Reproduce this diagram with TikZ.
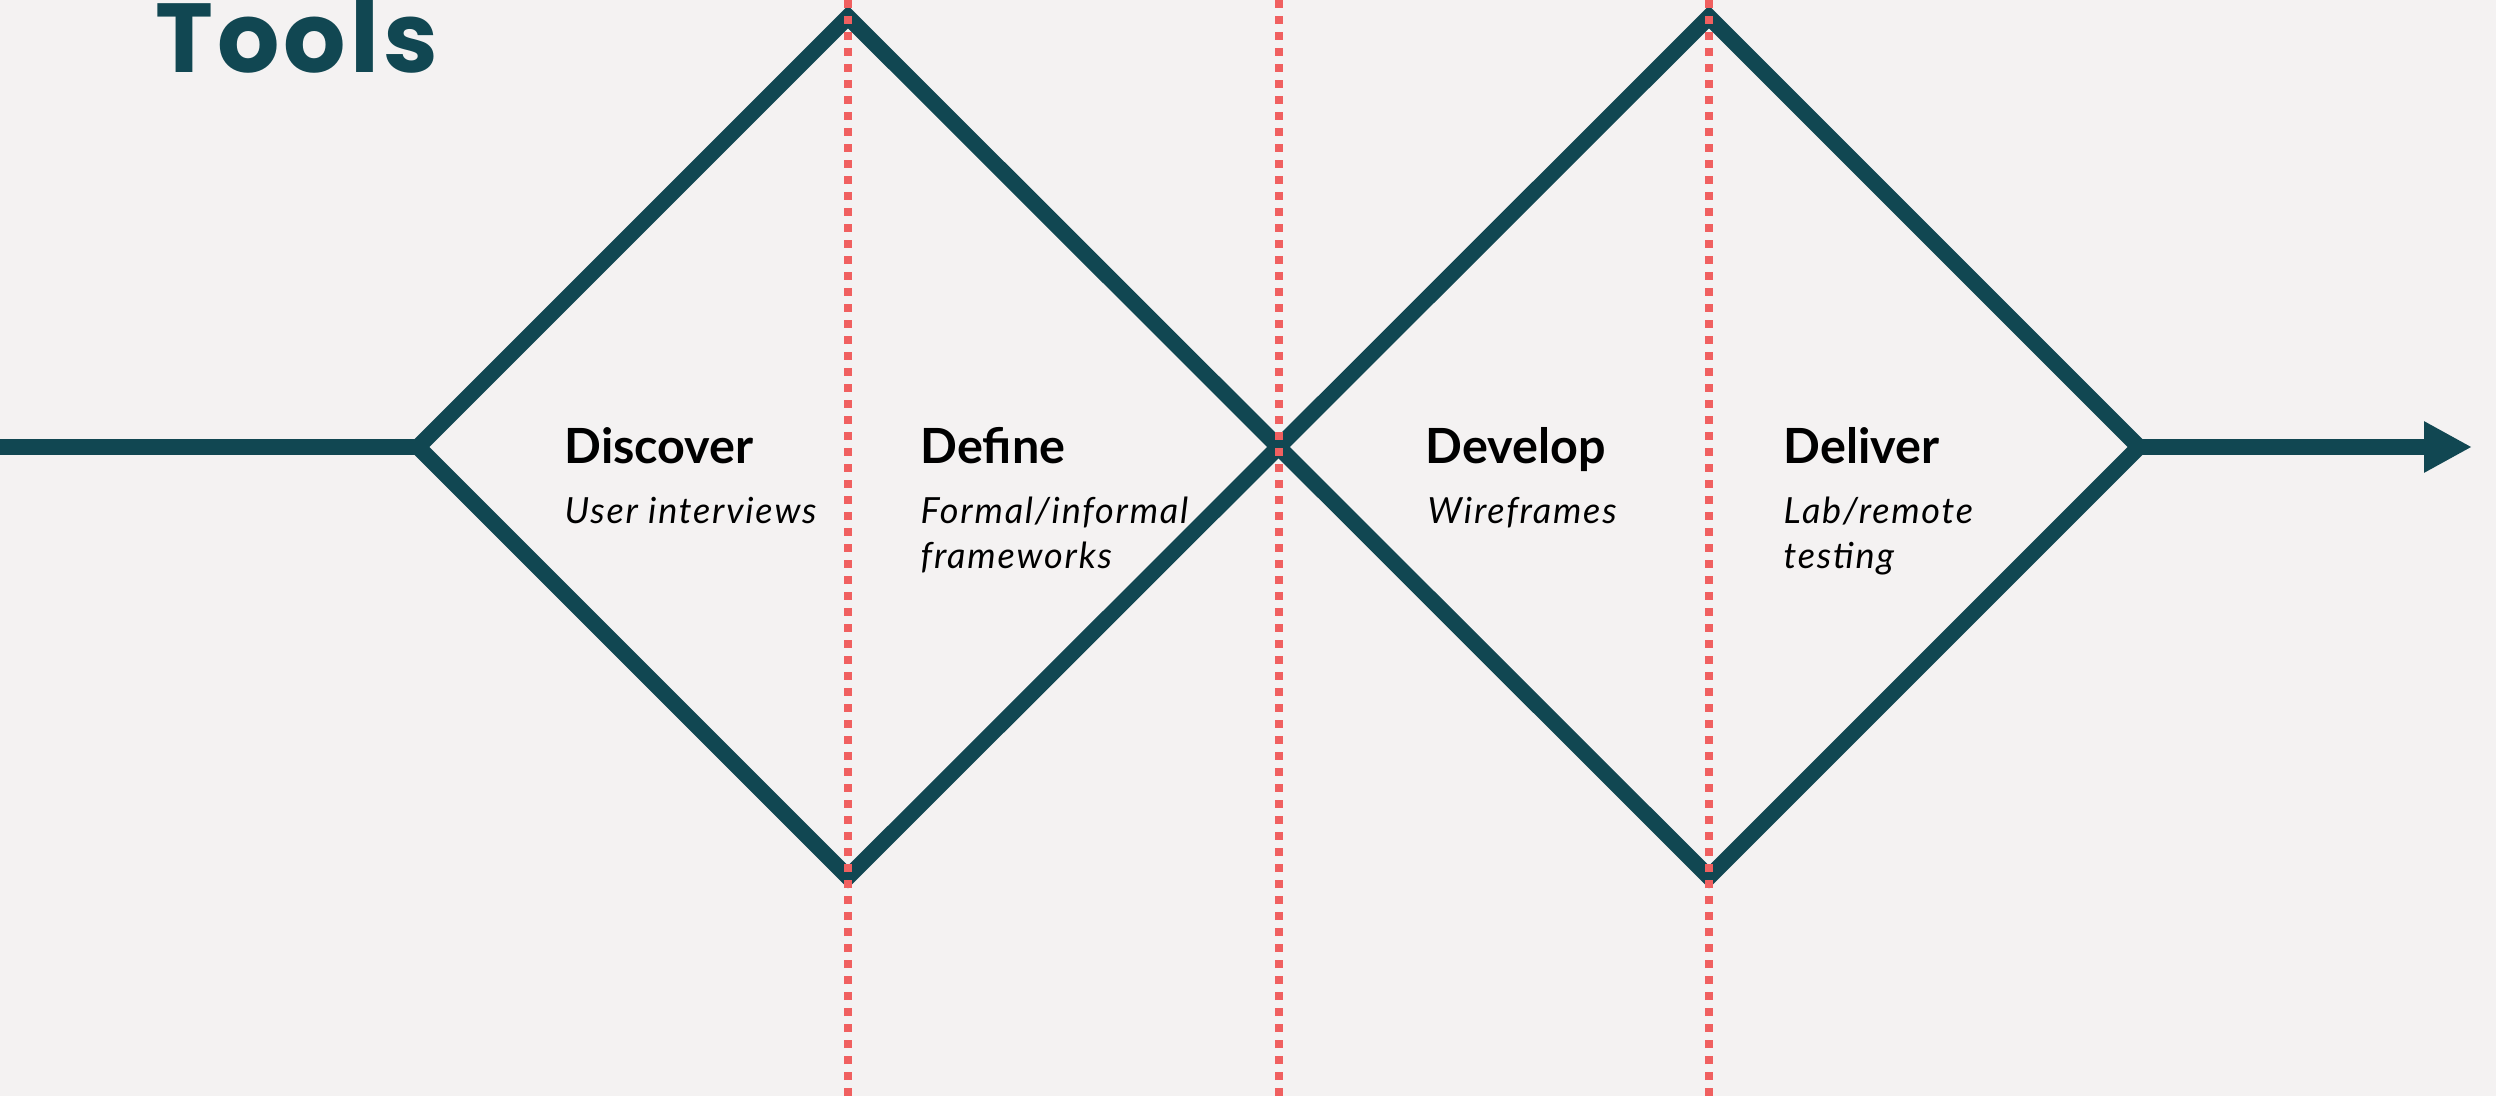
\documentclass[tikz,border=0pt]{standalone}
\usepackage{fontspec}
\setmainfont{Lato}
\newfontfamily\titlefont[LetterSpace=4]{Poppins}
\newfontfamily\toolfont[LetterSpace=5]{Lato}
\usetikzlibrary{arrows.meta}

\definecolor{teal}{HTML}{114752}
\definecolor{dots}{HTML}{F06060}
\definecolor{paper}{HTML}{F4F2F2}

\begin{document}
\begin{tikzpicture}
        \tikzstyle{every node}=[inner sep=0pt, text=black, anchor=base west, align=left]
        \tikzstyle{phase}=[font=\fontsize{13.8}{16}\selectfont\bfseries]
        \tikzstyle{tool}=[font=\fontsize{10.25}{12.8}\selectfont\toolfont\itshape]
        \tikzstyle{edge}=[teal, line width=0.16cm, miter limit=4]

        % page
        \fill[paper] (0,0) rectangle (24.96,10.96);
        \useasboundingbox (0,0) rectangle (24.96,10.96);

        \node[font=\fontsize{27.9}{30}\selectfont\titlefont\bfseries, text=teal] (title) at (1.55,10.23) {Tools};

        % corners of the two diamonds
        \coordinate (start) at (0,6.49);
        \coordinate (l1)    at (4.18,6.49);
        \coordinate (t1)    at (8.48,10.79);
        \coordinate (b1)    at (8.48,2.19);
        \coordinate (m)     at (12.785,6.49);
        \coordinate (t2)    at (17.09,10.79);
        \coordinate (b2)    at (17.09,2.19);
        \coordinate (r)     at (21.39,6.49);
        \coordinate (end)   at (24.72,6.49);

        \draw[edge] (start) -- (l1);
        \draw[edge] (l1) -- (t1) -- (m) -- (b1) -- cycle;
        \draw[edge] (m) -- (t2) -- (r) -- (b2) -- cycle;
        \draw[edge, -{Triangle[length=0.48cm, width=0.48cm]}] (r) -- (end);

        \tikzstyle{edge}=[dots, line width=0.08cm, dash pattern=on 0.08cm off 0.08cm]
        \draw[edge] (8.48,0) -- (t1) -- (8.48,10.96);
        \draw[edge] (12.785,0) -- (m) -- (12.785,10.96);
        \draw[edge] (17.09,0) -- (t2) -- (17.09,10.96);

        % two-line texts sit on the baseline of their last line
        \node[phase] (discover) at (5.64,6.33)  {Discover};
        \node[tool]  (interv)   at (5.64,5.73)  {User interviews};
        \node[phase] (define)   at (9.20,6.33)  {Define};
        \node[tool]  (frames)   at (9.20,5.28)  {Formal/informal\\frameworks};
        \node[phase] (develop)  at (14.25,6.33) {Develop};
        \node[tool]  (wire)     at (14.27,5.73) {Wireframes};
        \node[phase] (deliver)  at (17.83,6.33) {Deliver};
        \node[tool]  (testing)  at (17.83,5.28) {Lab/remote\\testing};
    \end{tikzpicture}
\end{document}
